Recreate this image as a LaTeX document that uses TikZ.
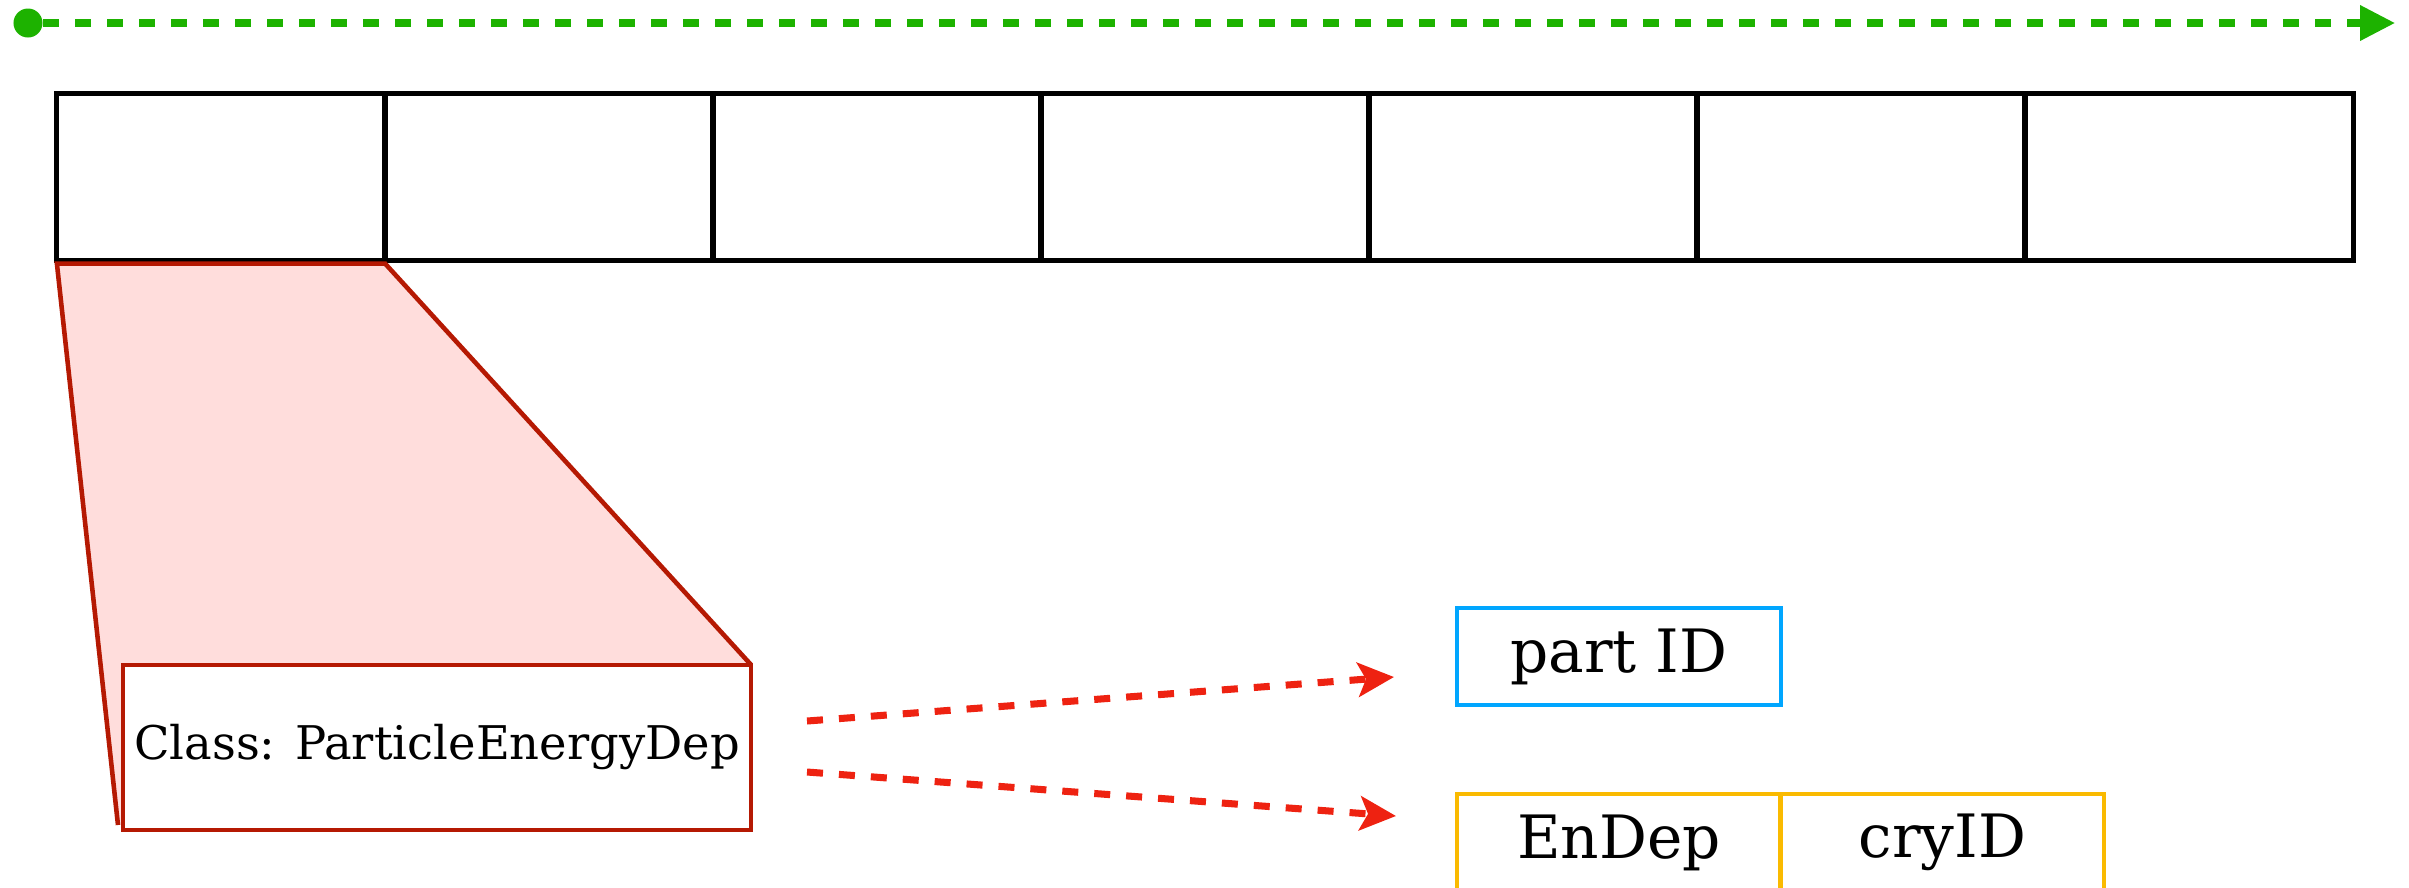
\documentclass[tikz,border=0pt]{standalone}
\usepackage{fontspec}
\setmainfont{DejaVu Serif}
\usetikzlibrary{arrows.meta}
\definecolor{zoomred}{RGB}{181,25,3}
\definecolor{zoomfill}{RGB}{255,221,220}
\definecolor{arrred}{RGB}{238,34,17}
\definecolor{timegreen}{RGB}{29,178,0}
\definecolor{idblue}{RGB}{0,166,255}
\definecolor{datayellow}{RGB}{250,186,0}
\pgfdeclarelayer{background}
\pgfsetlayers{background,main}
\begin{document}
\begin{tikzpicture}[x=0.01cm,y=-0.01cm,
  cell/.style={draw=black,line width=1.42pt,minimum width=3.28cm,minimum height=1.66cm,inner sep=0pt,outer sep=0pt},
  classbox/.style={draw=zoomred,fill=white,line width=1.3pt,minimum width=6.28cm,minimum height=1.65cm,inner sep=0pt,outer sep=0pt,font=\fontsize{13.2pt}{16pt}\selectfont},
  idbox/.style={draw=idblue,line width=1.14pt,minimum width=3.24cm,minimum height=0.97cm,inner sep=0pt,outer sep=0pt,font=\fontsize{17pt}{20pt}\selectfont},
  databox/.style={draw=datayellow,line width=1.14pt,minimum width=3.235cm,minimum height=0.97cm,inner sep=0pt,outer sep=0pt,font=\fontsize{17pt}{20pt}\selectfont},
  dasharrow/.style={arrred,line width=2pt,dash pattern=on 4.55pt off 4.55pt,-{Stealth[length=0.36cm,width=0.34cm,inset=0.08cm]}},
  timeline/.style={timegreen,line width=2pt,dash pattern=on 4.55pt off 4.55pt,-{Triangle[length=0.35cm,width=0.34cm]}}
]
\useasboundingbox (0,0) rectangle (2409,887);
% time axis
\node[circle,fill=timegreen,minimum size=0.29cm,inner sep=0pt] (tstart) at (28,23) {};
\coordinate (tend) at (2395,23);
\draw[timeline] (tstart) -- (tend);
% cells
\foreach \i in {1,...,7}{
  \node[cell] (c\i) at ({57+328*(\i-0.5)},177) {};
}
% class box
\node[classbox] (cls) at (437,747.5) {Class: ParticleEnergyDep};
\coordinate (trbl) at (118,825);
\begin{pgfonlayer}{background}
\fill[zoomfill] ([yshift=-1pt]c1.south west) -- ([yshift=-1pt]c1.south east) -- (cls.north east) -- (trbl) -- cycle;
\end{pgfonlayer}
\draw[zoomred,line width=1.3pt,line join=miter] (trbl) -- ([yshift=-1pt]c1.south west) -- ([yshift=-1pt]c1.south east) -- (cls.north east);
% data boxes
\node[idbox] (pid) at (1619,656.5) {part ID};
\node[databox] (endep) at (1619,842.5) {EnDep};
\node[databox] (cryid) at (1942.25,842.5) {cryID};
% arrows
\coordinate (a1s) at (807,721);
\coordinate (a1e) at (1394,677);
\coordinate (a2s) at (807,772);
\coordinate (a2e) at (1396,816);
\draw[dasharrow] (a1s) -- (a1e);
\draw[dasharrow] (a2s) -- (a2e);
\end{tikzpicture}
\end{document}
